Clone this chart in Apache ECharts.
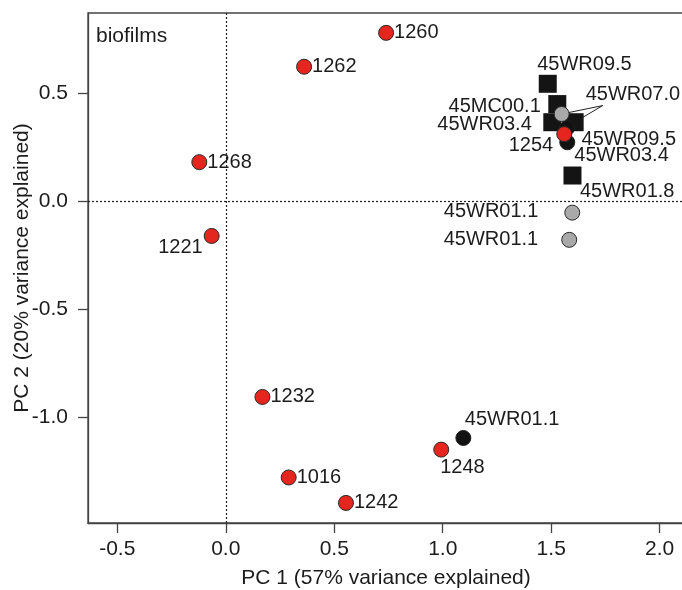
<!DOCTYPE html>
<html>
<head>
<meta charset="utf-8">
<script src="https://cdn.jsdelivr.net/npm/echarts@6/dist/echarts.min.js"></script>
<style>
  html, body { margin: 0; padding: 0; background: #ffffff; }
  #chart { width: 682px; height: 590px; }
</style>
</head>
<body>
<div id="chart"></div>
<script>
// PCA scores (PC 1, PC 2)
// Biofilm samples (red circles)
const biofilmNames = ['1260', '1262', '1268', '1221', '1232', '1016', '1242', '1248', '1254'];
const biofilmPC1   = [0.739, 0.361, -0.122, -0.065, 0.169, 0.290, 0.554, 0.993, 1.560];
const biofilmPC2   = [0.780, 0.623, 0.181, -0.161, -0.907, -1.280, -1.398, -1.151, 0.311];

// Squares
const squareNames = ['45WR09.5', '45MC00.1', '45WR03.4', '45WR07.0', '45WR01.8'];
const squarePC1   = [1.484, 1.528, 1.505, 1.608, 1.598];
const squarePC2   = [0.544, 0.450, 0.366, 0.366, 0.119];

// Black circles
const blackNames = ['45WR09.5', '45WR03.4', '45WR01.1'];
const blackPC1   = [1.573, 1.574, 1.095];
const blackPC2   = [0.339, 0.273, -1.097];

// Grey circles
const greyNames = ['45WR07.0', '45WR01.1', '45WR01.1'];
const greyPC1   = [1.548, 1.597, 1.583];
const greyPC2   = [0.404, -0.053, -0.179];

// Axis ticks
const xTicks = [-0.5, 0, 0.5, 1, 1.5, 2];
const yTicks = [-1, -0.5, 0, 0.5];

// Label placement per point: [align, dx, dy] in pixels from the symbol centre
const biofilmLabelPlace = [
  ['left', 8, 0], ['left', 8, 0], ['left', 8, 0], ['right', -9, 12],
  ['left', 8, 0], ['left', 8, 0], ['left', 8, 0], ['left', -1, 18], ['right', -11, 11]
];
const squareLabelPlace = [
  ['left', -10.5, -19], ['right', -16.5, 2.5], ['right', -20.5, 2.7], null, ['left', 7.5, 16]
];
const blackLabelPlace = [['left', 14.5, 11], ['left', 7, 13.7], ['left', 1.5, -18]];
const greyLabelPlace  = [['left', 24, -19.7], ['right', -34, -1], ['right', -31, -0.7]];

// Leader lines for the shared "45WR07.0" label end here (data units)
const leaderAnchor = [1.737, 0.443];

const FONT = '"Liberation Sans", Arial, Helvetica, sans-serif';
const TEXT = '#1c1c1c';
const AXIS = '#444444';

function buildItems(names, xs, ys, place) {
  return names.map((n, i) => {
    const p = place[i];
    return {
      name: n,
      value: [xs[i], ys[i]],
      label: p ? {
        show: true, position: 'inside', align: p[0], verticalAlign: 'middle',
        offset: [p[1], p[2]]
      } : { show: false }
    };
  });
}

const labelStyle = { formatter: '{b}', color: TEXT, fontFamily: FONT, fontSize: 20 };

// Leader segments from the anchor to every point named 45WR07.0
const leaderData = [];
[[squareNames, squarePC1, squarePC2], [greyNames, greyPC1, greyPC2]].forEach(([n, xs, ys]) => {
  n.forEach((name, i) => {
    if (name === '45WR07.0') {
      leaderData.push([{ coord: leaderAnchor }, { coord: [xs[i], ys[i]] }]);
    }
  });
});

const chart = echarts.init(document.getElementById('chart'), null, { renderer: 'canvas' });

chart.setOption({
  animation: false,
  backgroundColor: '#ffffff',
  title: {
    text: 'biofilms', left: 96, top: 26, padding: 0,
    textStyle: { fontFamily: FONT, fontSize: 21, fontWeight: 'normal', color: TEXT }
  },
  grid: {
    left: 88, top: 13, right: -2, bottom: 67,
    containLabel: false, outerBoundsMode: 'none',
    show: true, borderColor: AXIS, borderWidth: 1.3, backgroundColor: 'transparent'
  },
  xAxis: {
    type: 'value', min: -0.635, max: 2.112,
    name: 'PC 1 (57% variance explained)', nameLocation: 'middle', nameGap: 45,
    nameMoveOverlap: false,
    nameTextStyle: { fontFamily: FONT, fontSize: 21, color: TEXT },
    axisLine: { show: true, onZero: false, lineStyle: { color: AXIS, width: 1.3 } },
    axisTick: { show: true, inside: false, length: 10, customValues: xTicks, lineStyle: { color: AXIS, width: 1.3 } },
    axisLabel: {
      customValues: xTicks, margin: 16, formatter: v => v.toFixed(1),
      fontFamily: FONT, fontSize: 21, color: TEXT
    },
    splitLine: { show: false }
  },
  yAxis: {
    type: 'value', min: -1.491, max: 0.872,
    name: 'PC 2 (20% variance explained)', nameLocation: 'middle', nameGap: 55, nameRotate: 90,
    nameMoveOverlap: false,
    nameTextStyle: { fontFamily: FONT, fontSize: 21, color: TEXT },
    axisLine: { show: true, onZero: false, lineStyle: { color: AXIS, width: 1.3 } },
    axisTick: { show: true, inside: false, length: 10, customValues: yTicks, lineStyle: { color: AXIS, width: 1.3 } },
    axisLabel: {
      customValues: yTicks, margin: 20, formatter: v => v.toFixed(1),
      fontFamily: FONT, fontSize: 21, color: TEXT
    },
    splitLine: { show: false }
  },
  series: [
    {
      // zero reference lines, drawn beneath the symbols
      type: 'scatter', data: [], silent: true, z: 1,
      markLine: {
        silent: true, symbol: 'none', z: 1, animation: false,
        label: { show: false },
        lineStyle: { color: '#222', width: 1.2, type: [2, 2] },
        data: [{ xAxis: 0 }, { yAxis: 0 }]
      }
    },
    {
      // leader lines for the 45WR07.0 label
      type: 'scatter', data: [], silent: true, z: 1,
      markLine: {
        silent: true, symbol: 'none', z: 1, animation: false,
        label: { show: false },
        lineStyle: { color: '#222', width: 1, type: 'solid' },
        data: leaderData
      }
    },
    {
      name: 'squares', type: 'scatter', z: 2, silent: true,
      symbol: 'rect', symbolSize: 18,
      itemStyle: { color: '#141414', borderColor: '#141414', borderWidth: 0, opacity: 1 },
      label: labelStyle,
      data: buildItems(squareNames, squarePC1, squarePC2, squareLabelPlace)
    },
    {
      name: 'black', type: 'scatter', z: 3, silent: true,
      symbol: 'circle', symbolSize: 15,
      itemStyle: { color: '#121212', borderColor: '#1f1f1f', borderWidth: 1, opacity: 1 },
      label: labelStyle,
      data: buildItems(blackNames, blackPC1, blackPC2, blackLabelPlace)
    },
    {
      name: 'grey', type: 'scatter', z: 4, silent: true,
      symbol: 'circle', symbolSize: 15,
      itemStyle: { color: '#a9a9a9', borderColor: '#2a2a2a', borderWidth: 1, opacity: 1 },
      label: labelStyle,
      data: buildItems(greyNames, greyPC1, greyPC2, greyLabelPlace)
    },
    {
      name: 'biofilms', type: 'scatter', z: 5, silent: true,
      symbol: 'circle', symbolSize: 15,
      itemStyle: { color: '#e4261f', borderColor: '#2a2a2a', borderWidth: 1, opacity: 1 },
      label: labelStyle,
      data: buildItems(biofilmNames, biofilmPC1, biofilmPC2, biofilmLabelPlace)
    }
  ]
});
</script>
</body>
</html>
